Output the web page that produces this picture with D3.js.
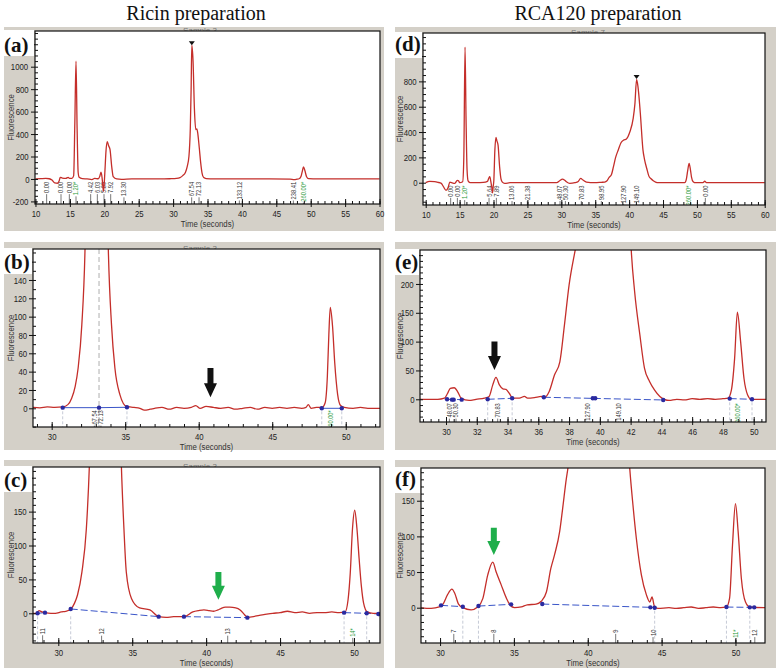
<!DOCTYPE html>
<html><head><meta charset="utf-8">
<script src="https://cdn.jsdelivr.net/npm/d3@7"></script>
<style>
body{margin:0;background:#fff;}
svg text{font-family:"Liberation Sans",Arial,sans-serif;}
.tk text{transform-box:fill-box;transform-origin:center;transform:scaleX(0.82);}
.cond{transform-box:fill-box;transform-origin:center;transform:scaleX(0.82);}
.condr{transform-box:fill-box;transform-origin:100% 50%;transform:scaleX(0.82);}
</style></head><body>
<svg id="c" width="776" height="672"></svg>
<script>
// ---------------- DATA ----------------
const columnTitles = ["Ricin preparation", "RCA120 preparation"];
const panelNames = ["(a)", "(b)", "(c)", "(d)", "(e)", "(f)"];

const traceA = [[10,0],[10.8,3],[11.5,5],[12.0,2],[12.4,-10],[12.8,-35],[13.2,-38],[13.45,-15],[13.6,15],[13.9,8],[14.4,5],[14.75,15],[14.95,5],[15.3,5],[15.55,30],[15.72,500],[15.89,1049],[16.05,450],[16.2,60],[16.35,15],[16.8,3],[17.5,0],[18.2,-5],[18.6,5],[19.1,2],[19.35,25],[19.52,60],[19.68,10],[19.8,-70],[19.88,-110],[19.98,-50],[20.1,80],[20.25,250],[20.44,332],[20.6,300],[20.83,264],[21.08,110],[21.3,20],[21.8,0],[22.5,-3],[24,0],[26,0],[28,0],[29.5,2],[30.5,5],[31.0,12],[31.4,30],[31.8,60],[32.05,110],[32.3,200],[32.5,450],[32.62,800],[32.72,1192],[32.9,1050],[33.1,620],[33.3,440],[33.45,445],[33.6,400],[33.8,280],[34.0,150],[34.2,55],[34.45,12],[34.8,3],[36,0],[40,0],[44,0],[47.0,-2],[47.6,-6],[48.0,-2],[48.3,2],[48.6,25],[48.8,75],[48.95,108],[49.15,75],[49.4,20],[49.7,3],[51,0],[60,0]];
const traceB = [[28.7,1],[29.2,0.5],[29.7,1.5],[30.2,1],[30.75,1.5],[31.1,4],[31.36,11],[31.6,24],[31.8,44],[32.05,91],[32.27,175],[32.5,400],[32.72,1190],[33.0,800],[33.3,440],[33.5,440],[33.7,300],[33.85,175],[34.07,91],[34.3,44],[34.64,15],[35.1,2],[35.6,1],[36.0,0],[36.3,-2],[36.7,-1],[37.0,0],[37.5,1],[38.0,-1],[38.5,1],[39.0,0],[39.5,1],[39.8,3],[40.1,0],[40.5,2],[41.0,1],[41.5,0],[42.0,1],[42.5,-1],[43.0,0],[43.5,1],[44.0,-1],[44.5,1],[45.0,0],[45.5,1],[46.0,0],[46.5,1],[47.0,0],[47.3,1],[47.45,4],[47.65,0],[48.0,1],[48.4,1],[48.6,6],[48.75,35],[48.85,80],[48.95,110],[49.1,90],[49.25,50],[49.45,15],[49.65,3],[49.9,1],[50.5,0],[51.0,1],[51.5,0],[52.4,0]];
const traceC = [[28.2,0],[28.5,0],[28.7,4],[28.9,2],[29.1,1],[29.5,0],[29.8,0],[30.2,2],[30.5,3],[30.84,6],[31.1,15],[31.3,27],[31.6,61],[31.9,125],[32.1,216],[32.5,600],[33.2,1100],[33.9,600],[34.27,216],[34.44,125],[34.6,61],[34.95,22],[35.5,8],[36.2,5],[36.8,-5],[37.3,-6],[37.8,-5],[38.5,-5],[39.1,2],[39.5,4],[39.85,5],[40.2,4],[40.5,3],[40.8,5],[41.0,7],[41.3,9],[41.6,9],[42.0,8],[42.3,5],[42.6,-2],[42.8,-6],[43.2,-5],[43.6,-3],[43.9,-2],[44.5,0],[45.0,1],[45.5,3],[46.0,1],[46.5,2],[47.0,0],[47.5,1],[48.0,1],[48.5,2],[49.0,1],[49.4,2],[49.6,20],[49.75,60],[49.9,125],[50.05,152],[50.2,125],[50.35,80],[50.5,40],[50.65,15],[50.9,2],[51.3,0],[51.8,0]];
const traceD = [[10,0],[10.6,10],[11.3,8],[11.8,3],[12.3,-5],[12.6,-30],[13.0,-60],[13.3,-40],[13.55,5],[14.0,-3],[14.3,-5],[14.65,18],[14.85,15],[15.0,0],[15.45,8],[15.62,200],[15.8,1070],[15.95,500],[16.1,100],[16.25,15],[16.6,0],[17.5,0],[18.5,2],[19.1,10],[19.3,35],[19.45,47],[19.6,10],[19.75,-40],[19.85,-80],[19.95,-30],[20.05,20],[20.2,258],[20.37,358],[20.5,330],[20.67,297],[20.9,126],[21.1,30],[21.3,5],[21.65,-5],[22.5,0],[25,0],[27,0],[29.3,0],[29.8,18],[30.15,29],[30.5,20],[30.75,8],[31.25,-5],[32.0,0],[32.5,10],[32.85,34],[33.2,21],[33.7,5],[34.9,0],[35.9,3],[36.4,5],[36.7,13],[37.05,42],[37.4,65],[37.7,129],[38.0,198],[38.4,259],[38.8,315],[39.2,337],[39.6,345],[40.1,400],[40.6,508],[40.85,620],[41.1,815],[41.3,760],[41.65,550],[42.04,259],[42.26,187],[42.6,112],[42.9,54],[43.23,31],[43.56,16],[43.9,5],[44.3,0],[46,0],[48.2,0],[48.45,30],[48.65,100],[48.85,153],[49.05,100],[49.2,45],[49.45,8],[49.8,0],[50.9,0],[51.15,12],[51.4,0],[55,0],[60,0]];
const traceE = [[28.3,0],[29.0,0],[29.46,0],[29.9,2],[30.1,10],[30.28,19],[30.54,20],[30.76,13],[30.98,2],[31.5,-2],[31.95,0],[32.5,2],[32.8,5],[33.04,25],[33.25,38],[33.47,25],[33.7,18],[33.9,17],[34.12,10],[34.34,2],[34.77,2],[35.1,5],[35.3,2],[35.75,3],[36.2,5],[36.4,3],[36.7,13],[37.05,42],[37.4,65],[37.7,129],[38.0,198],[38.4,259],[38.8,315],[39.2,337],[39.6,345],[40.1,400],[40.6,508],[40.85,620],[41.1,815],[41.3,760],[41.65,550],[42.04,259],[42.26,187],[42.6,112],[42.9,54],[43.23,31],[43.56,16],[43.9,5],[44.2,0],[44.5,-2],[45.0,0],[45.5,-1],[46.0,1],[46.5,0],[47.0,1],[47.5,0],[48.0,1],[48.33,2],[48.55,16],[48.76,71],[48.94,151],[49.15,100],[49.37,36],[49.6,8],[49.85,0],[50.9,0]];
const traceF = [[28.6,0],[29.4,-1],[29.95,1],[30.2,5],[30.5,18],[30.8,26],[31.0,20],[31.25,5],[31.55,0],[32.1,-3],[32.55,1],[32.9,13],[33.23,46],[33.57,64],[33.8,50],[34.14,32],[34.5,13],[34.7,5],[35.04,0],[35.5,1],[35.9,4],[36.5,5],[36.85,9],[37.2,22],[37.5,55],[37.75,74],[38.1,107],[38.3,139],[38.55,181],[38.66,196],[39.5,450],[40.5,750],[41.5,700],[42.3,400],[42.84,196],[43.06,144],[43.29,97],[43.63,46],[43.97,18],[44.2,8],[44.35,15],[44.53,1],[44.76,-1],[45.5,0],[46.0,-1],[46.5,0],[47.0,1],[47.5,-1],[48.0,0],[48.5,1],[49.0,0],[49.39,1],[49.6,13],[49.8,88],[50.0,146],[50.18,107],[50.4,41],[50.68,8],[50.97,1],[52.1,0]];

// peak annotations (time, text)
const peakTimesA = [11.62,13.71,14.92,15.89,18.02,18.99,19.96,20.93,22.86,32.7,33.77,39.63,47.48,48.93];
const peakTextsA = ["0.00","0.00","0.00","1.20*","4.42","6.03","5.89","7.92","13.30","67.54","72.13","133.12","238.41","260.00*"];
const peakTimesB = [32.9,33.35,48.95];
const peakTextsB = ["67.54","72.13","260.00*"];
const peakTimesC = [28.94,32.93,41.46,49.92];
const peakTextsC = ["11","12","13","14*"];
const peakTimesD = [13.68,14.67,15.75,19.34,20.42,22.73,24.99,29.81,30.6,32.95,35.9,39.2,41.07,48.83,51.24];
const peakTextsD = ["0.00","0.00","1.20*","5.64","7.89","13.06","21.38","48.07","50.30","70.83","98.95","127.90","149.10","260.00*","0.00"];
const peakTimesE = [30.22,30.65,33.36,39.22,41.21,48.98];
const peakTextsE = ["48.07","50.30","70.83","127.90","149.10","260.00*"];
const peakTimesF = [30.93,33.64,41.89,44.42,50.0,51.31];
const peakTextsF = ["7","8","9","10","11*","12"];

// integration baselines (blue) and their end dots
const baseB = [[[30.75,0.7],[33.22,0.7],[35.12,1.1]],[[48.37,0],[49.73,0]]];
const dotsB = [[30.75,0.7],[33.22,0.7],[35.12,1.1],[48.37,0],[49.73,0]];
const baseC = [[[28.6,0],[29.1,1]],[[30.84,6.4],[36.79,-4.9]],[[38.5,-4.9],[42.79,-6.4]],[[49.33,1],[50.86,0],[51.65,-1]]];
const dotsC = [[28.6,0],[29.1,1],[30.84,6.4],[36.79,-4.9],[38.5,-4.9],[42.79,-6.4],[49.33,1],[50.86,0],[51.65,-1]];
const baseE = [[[30.07,0],[31.02,-0.6]],[[32.71,0],[34.3,1.7]],[[36.36,3.5],[44.12,-1.2]],[[48.44,1.2],[49.89,0]]];
const dotsE = [[30.07,0],[30.39,-0.6],[30.5,-0.6],[31.02,-0.6],[32.71,0],[34.3,1.7],[36.36,3.5],[39.54,1.7],[39.7,1.7],[44.12,-1.2],[48.44,1.2],[49.89,0]];
const baseF = [[[30.07,3.3],[31.54,1.4]],[[32.6,2.3],[34.81,4.7]],[[36.92,5.1],[44.24,0.5],[44.53,0]],[[49.39,0.9],[50.97,0.5],[51.27,0.5]]];
const dotsF = [[30.07,3.3],[31.54,1.4],[32.6,2.3],[34.81,4.7],[36.92,5.1],[44.24,0.5],[44.53,0],[49.39,0.9],[50.97,0.5],[51.27,0.5]];

const dropB = [30.75,35.12,48.37,49.73];
const dropC = [28.6,30.84,49.33,50.86];
const dropE = [32.71,34.3,48.44,49.89];
const dropF = [31.54,32.6,44.53,49.39,50.97];
const guideB = [33.22];

// peak-top markers and arrows [time, valueTop, valueTip]
const markerA = [32.72,1192];
const markerD = [41.1,818];
const arrowB = [40.8,44,12];
const arrowC = [40.83,61,20];
const arrowE = [33.15,100,51];
const arrowF = [33.64,112,74];

// axis ticks
const xTicksWide = [10,15,20,25,30,35,40,45,50,55,60];
const xTicksZoom = [30,35,40,45,50];
const xTicksE = [30,32,34,36,38,40,42,44,46,48,50];
const yTicksA = [-200,0,200,400,600,800,1000,1200];
const yTicksB = [0,20,40,60,80,100,120,140,160];
const yTicksC = [0,50,100,150,200];
const yTicksD = [0,200,400,600,800,1000];
const yTicksE = [0,50,100,150,200,250];
const yTicksF = [0,50,100,150];
const xDomA = [9.93,60.07], yDomA = [-223,1318];
const xDomB = [28.73,52.33], yDomB = [-20.4,173.8];
const xDomC = [28.29,51.76], yDomC = [-43.8,215.8];
const xDomD = [9.6,60.04], yDomD = [-176,1182];
const xDomE = [28.31,50.8], yDomE = [-39.4,258.9];
const xDomF = [28.71,52.0], yDomF = [-49.5,195.9];

// ---------------- LAYOUT ----------------
const panels = [
 {key:'a', name:panelNames[0], trace:traceA, pt:peakTimesA, ptx:peakTextsA, xDom:xDomA, yDom:yDomA, xMaj:xTicksWide, xMin:1, yMaj:yTicksA, yMin:50, marker:markerA, sample:"Sample 3",
  bg:[4,27,384,231], frame:[35,31,380,204], labY:52, labOff:3, sx:200, fx:11},
 {key:'b', name:panelNames[1], trace:traceB, pt:peakTimesB, ptx:peakTextsB, xDom:xDomB, yDom:yDomB, xMaj:xTicksZoom, xMin:1, yMaj:yTicksB, yMin:10, base:baseB, dots:dotsB, drop:dropB, guide:guideB, arrow:arrowB, arrowColor:'#111', sample:"Sample 3",
  bg:[4,242,384,450], frame:[33,249,380,427], labY:269, labOff:2, sx:200, fx:11},
 {key:'c', name:panelNames[2], trace:traceC, pt:peakTimesC, ptx:peakTextsC, xDom:xDomC, yDom:yDomC, xMaj:xTicksZoom, xMin:1, yMaj:yTicksC, yMin:10, base:baseC, dots:dotsC, drop:dropC, arrow:arrowC, arrowColor:'#1fae4b', dashed:true, sample:"Sample 3",
  bg:[4,460,384,668], frame:[33,467,380,643], labY:487, labOff:15, sx:200, fx:11},
 {key:'d', name:panelNames[3], trace:traceD, pt:peakTimesD, ptx:peakTextsD, xDom:xDomD, yDom:yDomD, xMaj:xTicksWide, xMin:1, yMaj:yTicksD, yMin:50, marker:markerD, sample:"Sample 7",
  bg:[395,27,776,231], frame:[423,33,765,205], labY:51, labOff:3, sx:588, fx:400},
 {key:'e', name:panelNames[4], trace:traceE, pt:peakTimesE, ptx:peakTextsE, xDom:xDomE, yDom:yDomE, xMaj:xTicksE, xMin:0.5, yMaj:yTicksE, yMin:10, base:baseE, dots:dotsE, drop:dropE, arrow:arrowE, arrowColor:'#111', dashed:true,
  bg:[395,242,776,450], frame:[420,250,766,422], labY:269, labOff:4, sx:588, fx:400},
 {key:'f', name:panelNames[5], trace:traceF, pt:peakTimesF, ptx:peakTextsF, xDom:xDomF, yDom:yDomF, xMaj:xTicksZoom, xMin:1, yMaj:yTicksF, yMin:10, base:baseF, dots:dotsF, drop:dropF, arrow:arrowF, arrowColor:'#1fae4b', dashed:true,
  bg:[395,460,776,668], frame:[421,468,765,643], labY:486, labOff:22, sx:588, fx:400}
];

const svg = d3.select('#c');
const serif = '"Liberation Serif","Times New Roman",serif';
svg.append('text').attr('x',196).attr('y',20).attr('text-anchor','middle').attr('font-size',20).attr('fill','#111').style('font-family',serif).text(columnTitles[0]);
svg.append('text').attr('x',598).attr('y',20).attr('text-anchor','middle').attr('font-size',20).attr('fill','#111').style('font-family',serif).text(columnTitles[1]);

function drawPanel(P){
  const [fx0,fy0,fx1,fy1] = P.frame;
  const [bx0,by0,bx1,by1] = P.bg;
  const x = d3.scaleLinear().domain(P.xDom).range([fx0,fx1]);
  const y = d3.scaleLinear().domain(P.yDom).range([fy1,fy0]);
  const boxBottom = fy0 + 25;
  const g = svg.append('g');
  g.append('rect').attr('x',bx0).attr('y',by0).attr('width',bx1-bx0).attr('height',by1-by0).attr('fill','#d4d0c8');
  if(P.sample) g.append('text').attr('x',P.sx).attr('y',fy0+2).attr('text-anchor','middle').attr('font-size',8).attr('fill','#777').text(P.sample);
  g.append('rect').attr('x',fx0).attr('y',fy0).attr('width',fx1-fx0).attr('height',fy1-fy0).attr('fill','#fff');
  const cid = 'clip'+P.key;
  svg.append('clipPath').attr('id',cid).append('rect').attr('x',fx0).attr('y',fy0).attr('width',fx1-fx0).attr('height',fy1-fy0);
  const pg = g.append('g').attr('clip-path',`url(#${cid})`);

  (P.guide||[]).forEach(t=>{
    pg.append('line').attr('x1',x(t)).attr('x2',x(t)).attr('y1',fy0).attr('y2',fy1).attr('stroke','#999').attr('stroke-width',0.8).attr('stroke-dasharray','5,3');
  });
  (P.drop||[]).forEach(t=>{
    pg.append('line').attr('x1',x(t)).attr('x2',x(t)).attr('y1',y(0)+3).attr('y2',fy1).attr('stroke','#b8bccc').attr('stroke-width',0.8).attr('stroke-dasharray','3,2');
  });
  // peak labels
  P.pt.forEach((t,i)=>{
    const txt = P.ptx[i];
    const px = x(t), top = y(0)+P.labOff;
    const gg = pg.append('g').attr('transform',`translate(${px},${top}) rotate(-90)`);
    const te = gg.append('text').attr('class','condr').attr('text-anchor','end').attr('dy','0.35em').attr('font-size',7)
      .attr('fill', txt.endsWith('*') ? '#2b9a3c' : '#333').text(txt);
    const len = te.node().getComputedTextLength()*0.82;
    pg.append('line').attr('x1',px).attr('x2',px).attr('y1',top+len+1).attr('y2',fy1).attr('stroke','#555').attr('stroke-width',0.8);
  });
  // baselines
  const bl = d3.line().x(d=>x(d[0])).y(d=>y(d[1]));
  (P.base||[]).forEach(seg=>{
    pg.append('path').attr('d',bl(seg)).attr('fill','none').attr('stroke','#3a55c8').attr('stroke-width',1)
      .attr('stroke-dasharray', P.dashed ? '7,3' : null);
  });
  // trace
  const line = d3.line().x(d=>x(d[0])).y(d=>y(d[1])).curve(d3.curveMonotoneX);
  pg.append('path').attr('d',line(P.trace)).attr('fill','none').attr('stroke','#c42e2a').attr('stroke-width',1.3).attr('stroke-linejoin','round');
  // dots
  (P.dots||[]).forEach(d=>{
    pg.append('circle').attr('cx',x(d[0])).attr('cy',y(d[1])).attr('r',2.2).attr('fill','#2a2aa0');
  });
  // marker
  if(P.marker){
    const mx = x(P.marker[0]), my = y(P.marker[1]);
    pg.append('path').attr('d',`M${mx-3},${my-4}L${mx+3},${my-4}L${mx},${my}Z`).attr('fill','#111');
  }
  // arrow
  if(P.arrow){
    const ax = x(P.arrow[0]), ay0 = y(P.arrow[1]), ay1 = y(P.arrow[2]);
    const hl = 14, sw = 3, hw = 6.5;
    pg.append('path').attr('d',`M${ax-sw},${ay0}L${ax+sw},${ay0}L${ax+sw},${ay1-hl}L${ax+hw},${ay1-hl}L${ax},${ay1}L${ax-hw},${ay1-hl}L${ax-sw},${ay1-hl}Z`).attr('fill',P.arrowColor);
  }
  // axes
  const fmt = d=>String(d);
  const yMinor = d3.range(Math.ceil(P.yDom[0]/P.yMin)*P.yMin, P.yDom[1], P.yMin);
  const xMinor = d3.range(Math.ceil(P.xDom[0]/P.xMin)*P.xMin, P.xDom[1], P.xMin);
  const styleAx = s=>{ s.select('.domain').remove(); s.attr('font-family',null).attr('font-size',null); s.selectAll('line').attr('stroke','#111'); s.selectAll('text').attr('font-size',9.5).attr('fill','#222'); };
  const yMajIn = P.yMaj.filter(v=>v>=P.yDom[0]&&v<=P.yDom[1]);
  g.append('g').attr('class','tk').attr('transform',`translate(${fx0},0)`)
    .call(d3.axisLeft(y).tickValues(yMajIn).tickSize(4).tickPadding(1).tickFormat(fmt)).call(styleAx)
    .selectAll('.tick text').filter(v=>y(v) < boxBottom + 4).remove();
  g.append('g').attr('transform',`translate(${fx0},0)`).call(d3.axisLeft(y).tickValues(yMinor).tickSize(-3).tickFormat('')).call(styleAx);
  g.append('g').attr('class','tk').attr('transform',`translate(0,${fy1})`).call(d3.axisBottom(x).tickValues(P.xMaj).tickSize(3).tickPadding(3).tickFormat(fmt)).call(styleAx);
  g.append('g').attr('transform',`translate(0,${fy1})`).call(d3.axisBottom(x).tickValues(P.xMaj).tickSize(-5).tickFormat('')).call(styleAx);
  g.append('g').attr('transform',`translate(0,${fy1})`).call(d3.axisBottom(x).tickValues(xMinor).tickSize(-3).tickFormat('')).call(styleAx);
  // frame
  g.append('rect').attr('x',fx0).attr('y',fy0).attr('width',fx1-fx0).attr('height',fy1-fy0).attr('fill','none').attr('stroke','#111').attr('stroke-width',1.2);
  // axis titles
  g.append('text').attr('class','cond').attr('x',(fx0+fx1)/2).attr('y',fy1+23).attr('text-anchor','middle').attr('font-size',9.5).attr('fill','#333').text('Time (seconds)');
  const fg = g.append('g').attr('transform',`translate(${P.fx},${(fy0+fy1)/2}) rotate(-90)`);
  fg.append('text').attr('class','cond').attr('text-anchor','middle').attr('dy','0.35em').attr('font-size',9.5).attr('fill','#333').text('Fluorescence');
  // panel label
  g.append('rect').attr('x',bx0-4).attr('y',fy0-1).attr('width',fx0-bx0+3).attr('height',boxBottom-fy0+1).attr('fill','#fff');
  g.append('text').attr('x',bx0).attr('y',P.labY).attr('font-size',21).attr('font-weight','bold').attr('fill','#111').style('font-family',serif).text(P.name);
}
panels.forEach(drawPanel);
</script>
</body></html>
